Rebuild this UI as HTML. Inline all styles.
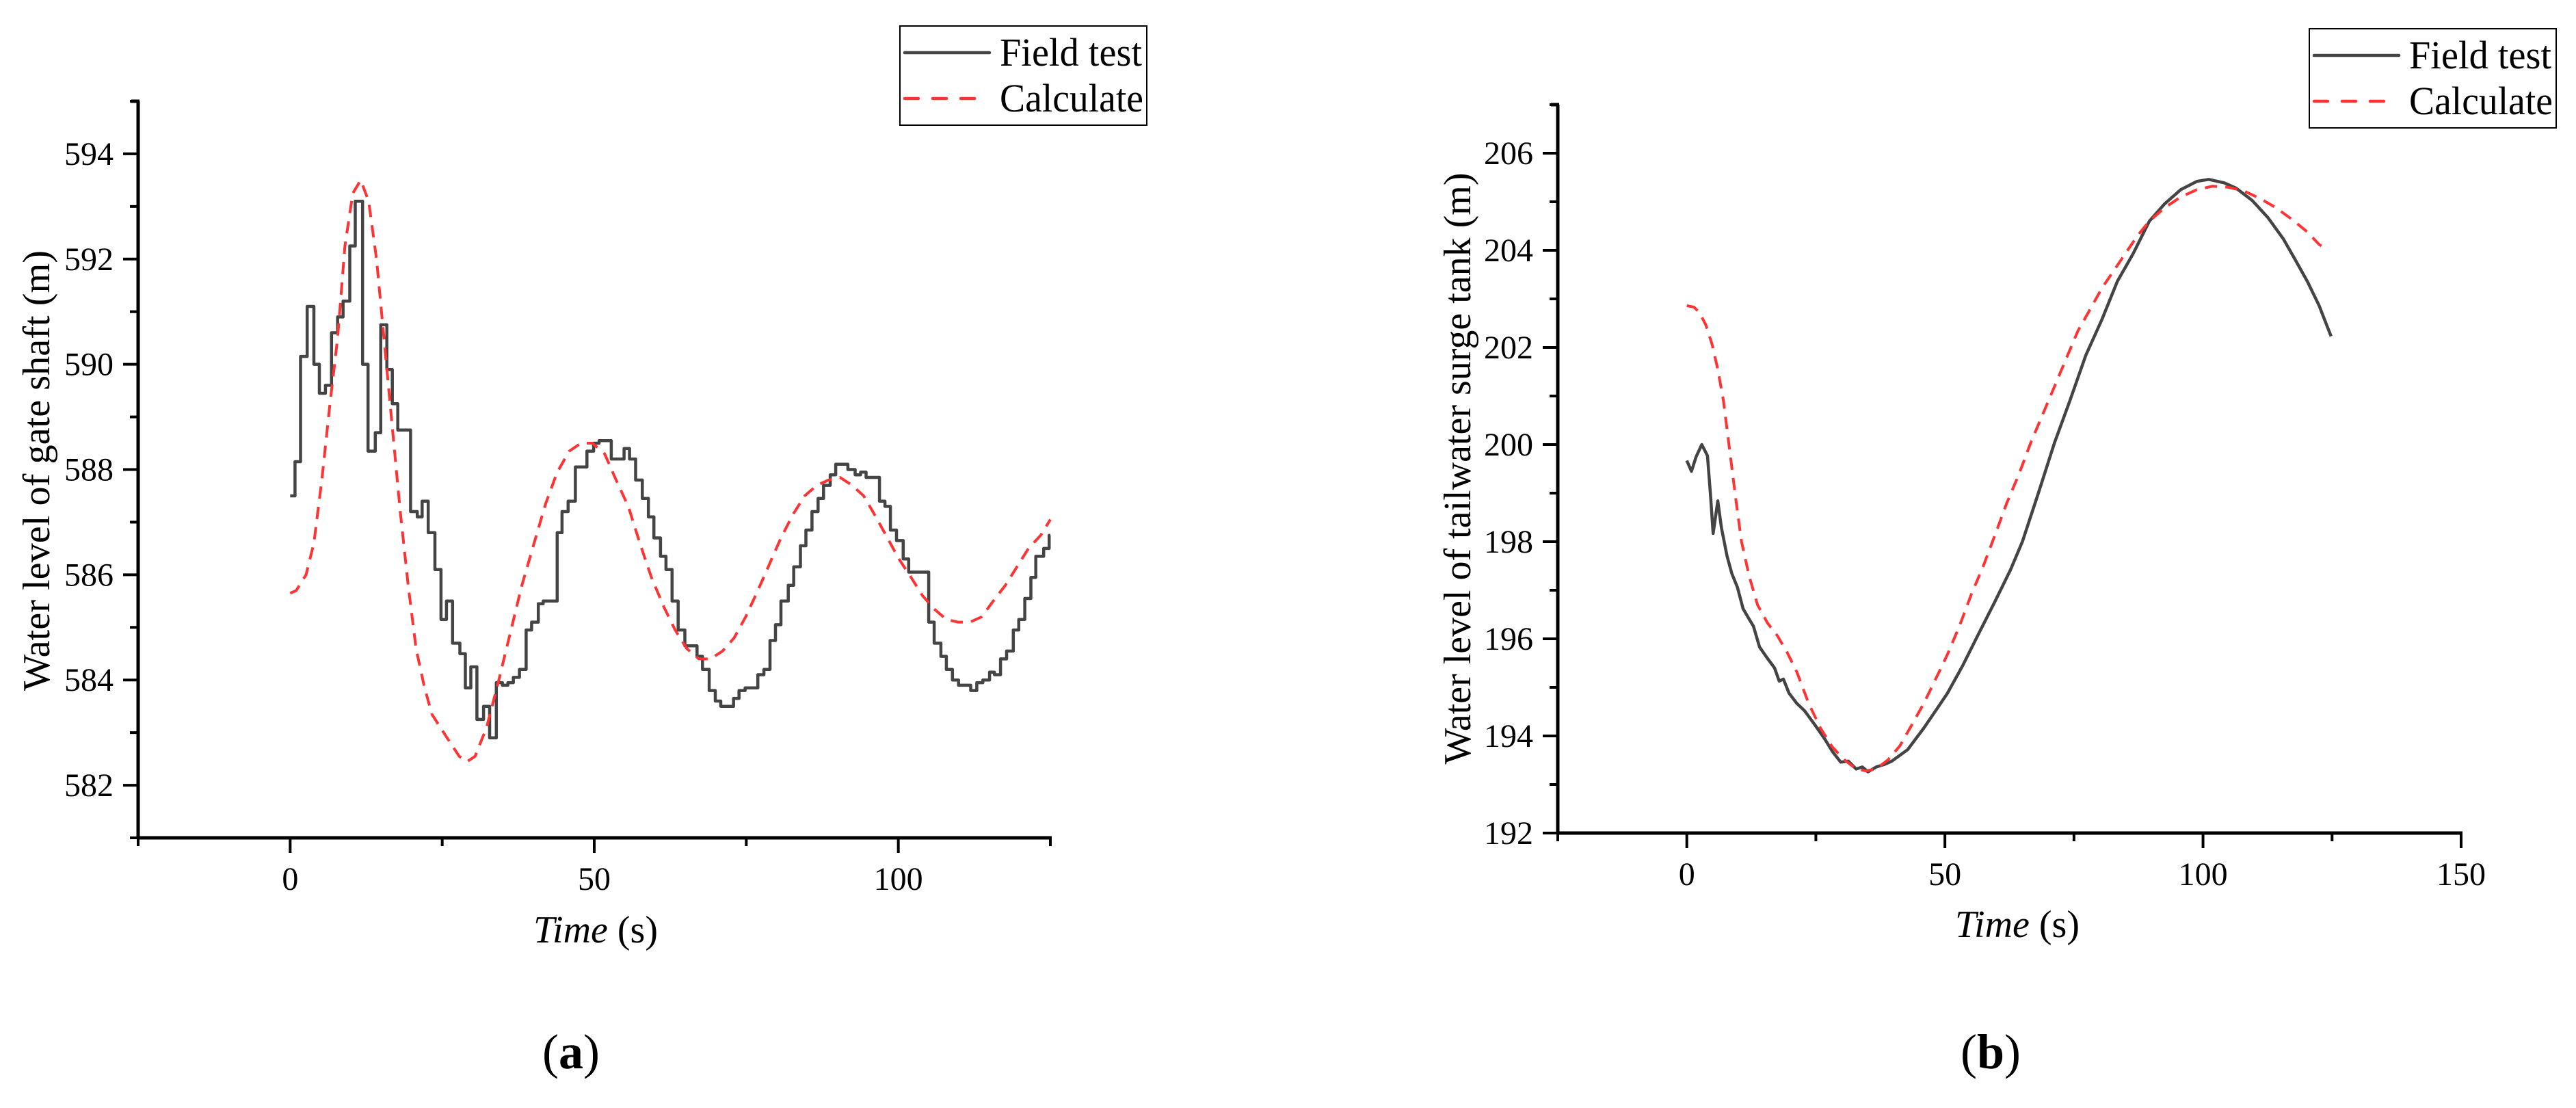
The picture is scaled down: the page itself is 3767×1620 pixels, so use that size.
<!DOCTYPE html>
<html><head><meta charset="utf-8">
<style>
html,body{margin:0;padding:0;background:#fff;}
svg, svg text, svg tspan{font-family:"Liberation Serif","DejaVu Serif",serif !important;}
</style></head>
<body>
<svg id="fig" width="3767" height="1615" viewBox="0 0 3767 1615" xmlns="http://www.w3.org/2000/svg" font-family="Liberation Serif, serif">
  <g id="chartA" font-family="Liberation Serif, serif"></g>
  <g id="chartB" font-family="Liberation Serif, serif"></g>
  <text x="835" y="1562" font-size="72" text-anchor="middle" font-family="Liberation Serif, serif">(<tspan font-weight="bold">a</tspan>)</text>
  <text x="2911" y="1562" font-size="72" text-anchor="middle" font-family="Liberation Serif, serif">(<tspan font-weight="bold">b</tspan>)</text>
</svg>
<script>
// ---- Chart A data ----
const aStepEnds = [0.8,1.7,2.8,3.9,4.8,5.8,6.8,7.8,8.7,9.8,10.7,11.9,12.8,14.0,14.9,15.9,16.8,17.7,19.8,20.9,21.7,22.7,23.8,24.8,25.7,26.7,27.9,28.8,29.7,30.7,31.8,32.8,33.9,34.9,35.8,36.7,37.7,38.8,39.7,40.8,41.6,43.9,44.7,45.7,46.9,48.8,49.9,50.8,52.8,54.9,55.8,56.8,57.9,58.9,59.8,60.9,61.8,62.8,63.8,64.9,66.9,67.8,68.9,69.9,70.8,72.9,73.8,74.8,76.9,77.9,78.9,79.8,80.7,81.9,82.8,83.9,84.8,85.8,86.8,87.7,88.8,89.7,91.7,92.9,93.8,94.7,95.7,96.9,97.8,98.7,99.7,100.8,101.7,102.7,105.0,105.9,107.0,107.9,108.9,109.9,111.9,112.9,113.9,115.0,115.8,116.8,117.8,118.9,119.8,120.8,121.8,122.6,123.9,124.8,125];
const aStepValues = [587.5,588.15,590.15,591.1,590.0,589.45,589.6,590.6,590.9,591.2,592.25,593.1,590.0,588.35,588.7,590.75,589.9,589.25,588.75,587.2,587.1,587.4,586.8,586.1,585.15,585.5,584.7,584.5,583.85,584.25,583.25,583.5,582.9,583.95,583.9,583.95,584.05,584.2,584.95,585.1,585.45,585.5,586.8,587.2,587.4,588.05,588.35,588.5,588.55,588.2,588.4,588.2,587.8,587.45,587.1,586.7,586.35,586.1,585.5,584.95,584.65,584.45,584.2,583.8,583.6,583.5,583.65,583.8,583.85,584.1,584.2,584.75,585.05,585.5,585.8,586.15,586.55,586.85,587.2,587.45,587.7,587.9,588.1,588.0,587.9,587.95,587.85,587.85,587.4,587.3,586.85,586.65,586.3,586.05,586.05,585.1,584.7,584.45,584.2,584.0,583.9,583.8,583.95,584.0,584.15,584.1,584.4,584.55,584.95,585.15,585.55,585.95,586.35,586.5,586.75];
const aCalcTimes = [0,1.0,2.6,3.9,5.2,6.5,7.8,9.0,10.3,11.6,12.9,14.2,15.5,16.8,18.1,19.4,20.7,22.0,23.3,25.8,27.8,29.1,30.4,32.3,34.2,36.2,38.1,40.1,42.0,43.9,45.9,47.8,49.7,51.7,53.6,55.6,57.5,59.4,61.4,63.3,65.2,67.2,69.1,71.1,73.0,74.9,76.9,78.8,80.7,82.7,84.6,86.6,88.5,90.4,92.4,94.3,96.3,98.2,100.1,102.1,104.0,105.9,107.9,109.8,111.8,113.7,115.6,117.6,119.5,121.4,123.4,125];
const aCalcValues = [585.65,585.7,586.0,586.6,587.8,589.2,590.5,592.25,593.25,593.5,593.1,592.0,590.4,588.8,587.2,585.8,584.6,583.9,583.35,582.9,582.55,582.45,582.55,583.1,583.95,584.9,585.8,586.6,587.35,587.95,588.35,588.5,588.5,588.3,587.8,587.3,586.6,585.95,585.4,584.95,584.6,584.4,584.4,584.55,584.8,585.2,585.7,586.2,586.7,587.15,587.5,587.7,587.8,587.85,587.7,587.5,587.1,586.7,586.3,585.95,585.6,585.35,585.15,585.1,585.1,585.2,585.5,585.8,586.15,586.5,586.75,587.05];
const aXTicks = [0,50,100];
const aYTicks = [582,584,586,588,590,592,594];

// ---- Chart B data ----
const bFieldTimes = [0,0.9,1.8,2.9,4.0,4.6,5.1,6.0,6.7,7.8,8.7,9.8,10.9,12.1,12.9,14.1,15.6,17.0,17.9,18.7,19.8,21.3,22.8,24.8,26.7,28.2,29.8,31.3,32.8,34.0,35.1,36.7,38.2,39.7,42.8,45.9,48.2,50.5,53.5,56.6,59.7,62.7,65.0,68.1,71.2,74.2,77.3,80.4,83.4,86.5,89.6,92.6,95.7,98.8,101.1,104.1,106.4,109.5,112.6,115.6,117.9,120.2,122.5,124.8];
const bFieldValues = [199.67,199.45,199.75,200.0,199.77,198.95,198.17,198.84,198.29,197.7,197.35,197.06,196.62,196.4,196.26,195.83,195.6,195.4,195.13,195.17,194.88,194.67,194.52,194.23,193.94,193.68,193.46,193.48,193.32,193.36,193.26,193.36,193.41,193.48,193.72,194.16,194.52,194.88,195.46,196.12,196.77,197.42,198.0,199.0,200.03,200.9,201.84,202.57,203.36,203.94,204.6,204.96,205.25,205.42,205.46,205.39,205.28,205.03,204.67,204.23,203.8,203.36,202.86,202.23];
const bCalcTimes = [0,1.4,2.5,3.7,4.9,6.0,7.1,8.3,9.5,10.6,12.1,13.7,15.6,17.5,19.3,21.3,23.6,25.9,28.2,30.5,32.8,34.7,36.7,39.0,41.3,43.6,45.9,48.2,50.5,52.8,55.1,57.4,59.7,62.0,64.3,66.6,68.9,71.2,73.5,75.8,78.1,80.4,82.7,85.0,87.3,89.6,92.6,95.7,98.8,101.8,104.9,108.0,111.0,114.1,117.2,120.2,122.5,124.1];
const bCalcValues = [202.86,202.83,202.71,202.46,202.06,201.55,200.9,199.88,198.87,198.0,197.28,196.7,196.33,196.07,195.75,195.32,194.67,194.16,193.77,193.51,193.32,193.28,193.32,193.51,193.8,194.23,194.67,195.17,195.68,196.26,196.91,197.49,198.14,198.8,199.38,200.03,200.61,201.19,201.77,202.35,202.78,203.22,203.58,203.94,204.3,204.6,204.88,205.1,205.25,205.32,205.3,205.22,205.07,204.88,204.64,204.38,204.12,204.01];
const bXTicks = [0,50,100,150];
const bYTicks = [192,194,196,198,200,202,204,206];

const NS = "http://www.w3.org/2000/svg";
const SERIF = "Liberation Serif, DejaVu Serif, serif";
function mk(tag, attrs, parent){
  const e = document.createElementNS(NS, tag);
  for (const k in attrs) e.setAttribute(k, attrs[k]);
  if (tag === "text") e.setAttribute("font-family", SERIF);
  parent.appendChild(e);
  return e;
}

function drawChart(g, c){
  const sx = v => c.x0px + (v - c.xmin) * (c.x1px - c.x0px) / (c.xmax - c.xmin);
  const sy = v => c.y0px - (v - c.ymin) * (c.y0px - c.y1px) / (c.ymax - c.ymin);
  const ax = mk("line", {x1:c.x0px, y1:c.y0px, x2:c.x1px+2, y2:c.y0px, stroke:"#000","stroke-width":5}, g);
  
  
  const ay = mk("line", {x1:c.x0px, y1:c.y0px+2, x2:c.x0px, y2:c.y1px, stroke:"#000","stroke-width":5}, g);
  
  
  const topCap = mk("line", {x1:c.x0px-10, y1:c.y1px, x2:c.x0px+2, y2:c.y1px, stroke:"#000","stroke-width":5}, g);
  
  
  for (let v = c.xmin; v <= c.xmax + 0.001; v += c.xMinorStep){
    const major = c.xTicks.indexOf(v) >= 0;
    const t = mk("line", {x1:sx(v), y1:c.y0px, x2:sx(v), y2:c.y0px + (major?22:12), stroke:"#000","stroke-width":4}, g);
    
    
  }
  c.xTicks.forEach(v => {
    const l = mk("text", {x:sx(v), y:c.y0px+76, "font-size":48, "text-anchor":"middle"}, g);
    
    
    l.textContent = v;
  });
  for (let v = c.ymin; v <= c.ymax + 0.001; v += 1){
    const major = c.yTicks.indexOf(v) >= 0;
    const t = mk("line", {x1:c.x0px - (major?22:12), y1:sy(v), x2:c.x0px, y2:sy(v), stroke:"#000","stroke-width":4}, g);
    
    
  }
  c.yTicks.forEach(v => {
    const l = mk("text", {x:c.x0px-36, y:sy(v)+16, "font-size":48, "text-anchor":"end"}, g);
    
    
    l.textContent = v;
  });
  const xt = mk("text", {x:c.xTitleX, y:c.xTitleY, "font-size":56, "text-anchor":"middle"}, g);
  
  
  const it = document.createElementNS(NS, "tspan");
  it.setAttribute("font-style", "italic");
  it.textContent = "Time";
  xt.appendChild(it);
  xt.appendChild(document.createTextNode(" (s)"));
  const yt = mk("text", {x:0, y:0, "font-size":56, "text-anchor":"middle", transform:"translate("+c.yTitleX+","+c.yTitleY+") rotate(-90)", textLength:c.yTitleLen, lengthAdjust:"spacingAndGlyphs"}, g);
  
  
  yt.textContent = c.yTitle;
  let d = "";
  if (c.step){
    let t0 = 0;
    c.fieldV.forEach((v,i) => {
      d += (i===0 ? "M" : "L") + sx(t0).toFixed(1) + "," + sy(v).toFixed(1);
      d += "L" + sx(c.fieldT[i]).toFixed(1) + "," + sy(v).toFixed(1);
      t0 = c.fieldT[i];
    });
  } else {
    c.fieldT.forEach((t,i) => { d += (i===0?"M":"L") + sx(t).toFixed(1) + "," + sy(c.fieldV[i]).toFixed(1); });
  }
  const fp = mk("path", {d:d, fill:"none", stroke:"#444", "stroke-width":4.5, "stroke-linejoin":"round"}, g);
  
  
  let d2 = "";
  c.calcT.forEach((t,i) => { d2 += (i===0?"M":"L") + sx(t).toFixed(1) + "," + sy(c.calcV[i]).toFixed(1); });
  const cp = mk("path", {d:d2, fill:"none", stroke:"#ff3333", "stroke-width":4, "stroke-dasharray":"18 12"}, g);
  
  
  const lg = mk("g", {}, g);
  
  
  const L = c.legX, T = c.legY;
  mk("rect", {x:L, y:T, width:361, height:145, fill:"#fff", stroke:"#000", "stroke-width":2}, lg);
  const le1 = mk("line", {x1:L+7, y1:T+39, x2:L+131, y2:T+39, stroke:"#444","stroke-width":4.5,"stroke-linecap":"round"}, lg);
  
  
  const le2 = mk("line", {x1:L+7, y1:T+106, x2:L+110, y2:T+106, stroke:"#ff3333","stroke-width":4.5,"stroke-dasharray":"20 21","stroke-linecap":"round"}, lg);
  
  
  const lt1 = mk("text", {x:L+146, y:T+58, "font-size":58, textLength:208, lengthAdjust:"spacingAndGlyphs"}, lg);
  
  
  lt1.textContent = "Field test";
  const lt2 = mk("text", {x:L+146, y:T+125, "font-size":58, textLength:210, lengthAdjust:"spacingAndGlyphs"}, lg);
  
  
  lt2.textContent = "Calculate";
}

drawChart(document.getElementById("chartA"), {
  x0px:202, x1px:1536, xmin:-25, xmax:125, xMinorStep:25, xTicks:aXTicks,
  y0px:1225, y1px:148, ymin:581, ymax:595, yTicks:aYTicks,
  step:true, fieldT:aStepEnds, fieldV:aStepValues, calcT:aCalcTimes, calcV:aCalcValues,
  xTitleX:871, xTitleY:1378, yTitleX:72, yTitleY:688, yTitleLen:644,
  yTitle:"Water level of gate shaft (m)", legX:1316, legY:38
});
drawChart(document.getElementById("chartB"), {
  x0px:2278, x1px:3599, xmin:-25, xmax:150, xMinorStep:25, xTicks:bXTicks,
  y0px:1218, y1px:153, ymin:192, ymax:207, yTicks:bYTicks,
  step:false, fieldT:bFieldTimes, fieldV:bFieldValues, calcT:bCalcTimes, calcV:bCalcValues,
  xTitleX:2950, xTitleY:1370, yTitleX:2150, yTitleY:685, yTitleLen:865,
  yTitle:"Water level of tailwater surge tank (m)", legX:3377, legY:42
});
</script>
</body></html>
